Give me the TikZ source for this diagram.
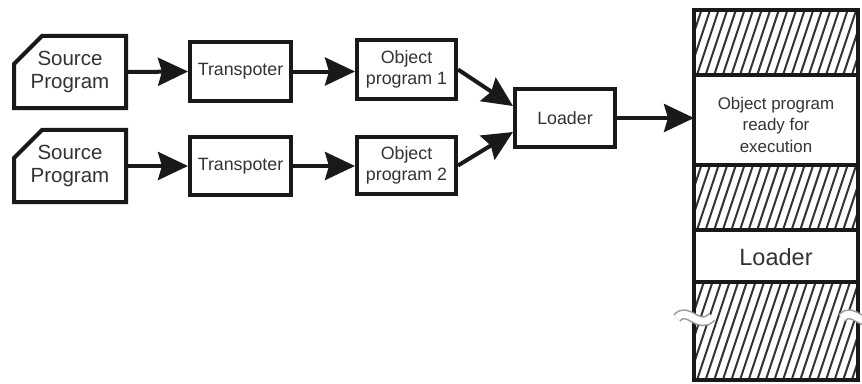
\documentclass[tikz,border=0pt]{standalone}
\usepackage{fontspec}
\setmainfont{Liberation Sans}
\usetikzlibrary{arrows.meta,shapes.misc}

% hatched memory segment: \hatchrect{x0}{y0}{x1}{y1}
\newcommand\hatchrect[4]{%
  \begin{scope}
    \clip (#1,#2) rectangle (#3,#4);
    \fill[white] (#1,#2) rectangle (#3,#4);
    \pgfmathsetmacro\hh{(#4-#2)/3}
    \foreach \k in {0,...,26}
      \draw[hatchline] (#1-40+8.6*\k,#4) -- ++(\hh,-#4+#2);
  \end{scope}}

\begin{document}
\begin{tikzpicture}[x=1pt,y=-1pt,
  box/.style={draw=black!90, line width=4pt, fill=white, rectangle,
              inner sep=0pt, align=center, text=black!80},
  srcbox/.style={box, chamfered rectangle, chamfered rectangle corners=north west,
              chamfered rectangle xsep=13pt, chamfered rectangle ysep=15pt},
  flow/.style={line width=4pt, black!90,
               -{Stealth[length=30pt,width=28pt,inset=4pt]}},
  hatchline/.style={line width=2pt, black!80},
  colline/.style={line width=4pt, black!90},
  breakmark/.style={line width=10pt, black!40},
  breakfill/.style={line width=7pt, white},
  srcfont/.style={font=\fontsize{20.5}{23.5}\selectfont},
  midfont/.style={font=\fontsize{17.8}{21}\selectfont},
]
\useasboundingbox (0,0) rectangle (862,383);

% input chains
\node[srcbox, srcfont, minimum width=112pt, minimum height=58pt] (src1) at (70,72) {Source\\Program};
\node[srcbox, srcfont, minimum width=112pt, minimum height=56.5pt] (src2) at (70,166) {Source\\Program};
\node[box, midfont, minimum width=101pt, minimum height=59pt] (tr1) at (240.5,71.5) {Transpoter};
\node[box, midfont, minimum width=101pt, minimum height=58pt] (tr2) at (240.5,166) {Transpoter};
\node[box, midfont, minimum width=99pt, minimum height=59pt] (ob1) at (406.5,69.5) {Object\\program 1};
\node[box, midfont, minimum width=99pt, minimum height=57pt] (ob2) at (406.5,165.5) {Object\\program 2};
\node[box, midfont, minimum width=100pt, minimum height=58pt] (ld) at (565,118) {Loader};

% memory column: hatched free areas, outline and separators
\hatchrect{694}{10}{858}{75}
\hatchrect{694}{165}{858}{230}
\hatchrect{694}{282}{858}{380}
\draw[colline] (694,10) rectangle (858,380);
\draw[colline] (694,75) -- (858,75) (694,165) -- (858,165)
               (694,230) -- (858,230) (694,282) -- (858,282);
\node[align=center, text=black!80, font=\fontsize{16.9}{21.5}\selectfont,
      minimum width=160pt, minimum height=80pt, inner sep=0pt]
  (ready) at (776,124.5) {Object program\\ready for\\execution};
\node[text=black!80, font=\fontsize{23.5}{26}\selectfont, inner sep=0pt]
  (ld2) at (776,257) {Loader};

% break marks on the column edges
\draw[breakmark] (677,318) .. controls (688,305) and (698,331) .. (712,317);
\draw[breakfill] (677,318) .. controls (688,305) and (698,331) .. (712,317);
\draw[breakmark] (842,318) .. controls (853,305) and (863,331) .. (877,317);
\draw[breakfill] (842,318) .. controls (853,305) and (863,331) .. (877,317);

% connectors
\coordinate (in1) at (513,106);
\coordinate (in2) at (513,132);
\coordinate (memin) at (694,118);
\draw[flow] (src1.east) -- (tr1.west);
\draw[flow] (src2.east) -- (tr2.west);
\draw[flow] (tr1.east) -- (tr1.east -| ob1.west);
\draw[flow] (tr2.east) -- (tr2.east -| ob2.west);
\draw[flow] (ob1.east) -- (in1);
\draw[flow] (ob2.east) -- (in2);
\draw[flow] (ld.east) -- (memin);
\end{tikzpicture}
\end{document}
